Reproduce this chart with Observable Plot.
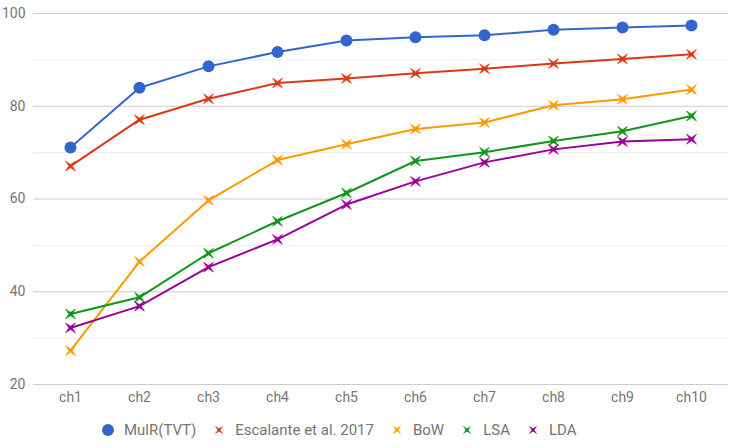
<!DOCTYPE html>
<html>
<head>
<meta charset="utf-8">
<script src="https://cdn.jsdelivr.net/npm/d3@7"></script>
<script src="https://cdn.jsdelivr.net/npm/@observablehq/plot@0.6"></script>
<style>
  body { margin: 0; background: #fff; font-family: Roboto, "Noto Sans", sans-serif; }
  #legend { display: flex; align-items: center; height: 36px; margin-left: 102px; font-size: 15px; color: #757575; }
  #legend .item { display: flex; align-items: center; margin-right: 17px; }
  #legend svg { margin-right: 10px; }
</style>
</head>
<body>
<div id="chart"></div>
<div id="legend"></div>
<script>
const chapters = ["ch1", "ch2", "ch3", "ch4", "ch5", "ch6", "ch7", "ch8", "ch9", "ch10"];
const seriesNames = ["MulR(TVT)", "Escalante et al. 2017", "BoW", "LSA", "LDA"];
const seriesColors = ["#3366cc", "#dc3912", "#ff9900", "#109618", "#990099"];
const mulr      = [71.1, 84.0, 88.6, 91.7, 94.2, 94.9, 95.3, 96.5, 97.0, 97.4];
const escalante = [67.1, 77.1, 81.6, 85.0, 86.0, 87.1, 88.1, 89.2, 90.2, 91.2];
const bow       = [27.3, 46.5, 59.7, 68.4, 71.8, 75.1, 76.5, 80.2, 81.5, 83.6];
const lsa       = [35.2, 38.8, 48.3, 55.2, 61.3, 68.2, 70.1, 72.5, 74.6, 77.9];
const lda       = [32.2, 36.9, 45.3, 51.3, 58.8, 63.8, 67.9, 70.7, 72.4, 72.9];
const yTicks = [20, 40, 60, 80, 100];
const yMinor = [30, 50, 70, 90];

const seriesValues = [mulr, escalante, bow, lsa, lda];
const rows = seriesNames.flatMap((name, s) =>
  chapters.map((ch, i) => ({series: name, chapter: ch, value: seriesValues[s][i]}))
);
const circles = rows.filter(d => d.series === seriesNames[0]);
const crosses = rows.filter(d => d.series !== seriesNames[0]);

// Vertices of a four-pointed star rotated 45°, a cross with concave sides
function starPoints(R, cx = 0, cy = 0) {
  const r = R * 0.24;
  return d3.range(8).map(k => {
    const a = Math.PI / 4 + k * Math.PI / 4;
    const rad = k % 2 === 0 ? R : r;
    return [cx + rad * Math.cos(a), cy + rad * Math.sin(a)];
  });
}
const starCross = {
  draw(context, size) {
    const pts = starPoints(Math.sqrt(size / Math.PI));
    pts.forEach(([px, py], k) => k === 0 ? context.moveTo(px, py) : context.lineTo(px, py));
    context.closePath();
  }
};

const chart = Plot.plot({
  width: 737,
  height: 412,
  marginTop: 13,
  marginBottom: 28,
  marginLeft: 33,
  marginRight: 9,
  style: {fontFamily: "Roboto, sans-serif", fontSize: "14px", color: "#757575", background: "#fff"},
  x: {type: "point", domain: chapters, padding: 0.5, label: null},
  y: {domain: [20, 100], label: null},
  color: {domain: seriesNames, range: seriesColors},
  marks: [
    Plot.ruleY(yMinor, {stroke: "#ebebeb", strokeWidth: 1, strokeOpacity: 1}),
    Plot.ruleY(yTicks, {stroke: "#cccccc", strokeWidth: 1, strokeOpacity: 1}),
    Plot.axisY(yTicks, {tickSize: 0, tickPadding: 8, fill: "#757575", fontSize: 14, label: null}),
    Plot.axisX({tickSize: 0, tickPadding: 8, fill: "#757575", fontSize: 14, label: null}),
    Plot.line(rows, {x: "chapter", y: "value", z: "series", stroke: "series", strokeWidth: 2}),
    Plot.dot(circles, {x: "chapter", y: "value", fill: "series", r: 6, symbol: "circle"}),
    Plot.dot(crosses, {x: "chapter", y: "value", fill: "series", stroke: "series", strokeWidth: 0.6, r: 7, symbol: starCross})
  ]
});
document.getElementById("chart").appendChild(chart);

// Legend row below the plot
const legend = d3.select("#legend");
seriesNames.forEach((name, i) => {
  const item = legend.append("div").attr("class", "item");
  const svg = item.append("svg").attr("width", 12).attr("height", 12);
  if (i === 0) {
    svg.append("circle").attr("cx", 6).attr("cy", 6).attr("r", 6).attr("fill", seriesColors[i]);
  } else {
    svg.append("path").attr("d", "M" + starPoints(6, 6, 6).join("L") + "Z").attr("fill", seriesColors[i]);
  }
  item.append("span").text(name);
});
</script>
</body>
</html>
